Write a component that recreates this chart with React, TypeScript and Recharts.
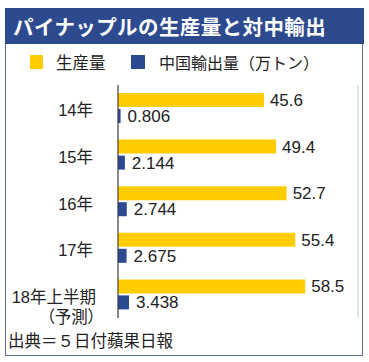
import React from "react";
import { BarChart, Bar, XAxis, YAxis, CartesianGrid, LabelList } from "recharts";

const categories = ["14年", "15年", "16年", "17年", "18年上半期\n（予測）"];
const production = [45.6, 49.4, 52.7, 55.4, 58.5];
const exportsToChina = [0.806, 2.144, 2.744, 2.675, 3.438];
const xTicks = [0, 25, 50, 75];

const title = "パイナップルの生産量と対中輸出";
const legendProduction = "生産量";
const legendExport = "中国輸出量（万トン）";
const source = "出典＝５日付蘋果日報";

const YELLOW = "#FFCC00";
const BLUE = "#2B4A92";
const CJK = "'Noto Sans CJK JP', sans-serif";
const MIXED = "'Liberation Sans', Arial, 'Noto Sans CJK JP', sans-serif";

const data = categories.map((name, i) => ({
  name,
  production: production[i],
  exports: exportsToChina[i],
}));

const CategoryTick = (props: any) => {
  const { x, y, payload } = props;
  const lines = String(payload.value).split("\n");
  const multi = lines.length > 1;
  return (
    <g>
      {lines.map((line: string, i: number) => (
        <text
          key={i}
          x={x - (multi ? 22 : 25)}
          y={y + 2 + i * 20}
          textAnchor="end"
          dominantBaseline="central"
          fontSize={16.5}
          fill="#222"
          fontFamily={MIXED}
          style={{ fontFeatureSettings: "'palt'" }}
        >
          {line}
        </text>
      ))}
    </g>
  );
};

export default function App() {
  return (
    <div
      style={{
        position: "absolute",
        left: 0,
        top: 0,
        width: 369,
        height: 362,
        background: "#fff",
        overflow: "hidden",
      }}
    >
      <div
        style={{
          position: "absolute",
          left: 5,
          top: 8,
          width: 356,
          height: 346,
          border: "1.5px solid #5d6c8c",
        }}
      />
      <div
        style={{
          position: "absolute",
          left: 5,
          top: 8,
          width: 359,
          height: 36,
          background: "#2D4A8E",
          color: "#fff",
          fontFamily: CJK,
          fontWeight: 700,
          fontSize: 20.5,
          lineHeight: "36px",
          paddingLeft: 8,
          boxSizing: "border-box",
          whiteSpace: "nowrap",
          letterSpacing: 0.4,
        }}
      >
        {title}
      </div>
      <div style={{ position: "absolute", left: 30, top: 55, width: 13, height: 14, background: YELLOW }} />
      <div
        style={{
          position: "absolute",
          left: 56,
          top: 51,
          fontFamily: CJK,
          fontSize: 16.5,
          lineHeight: "22px",
          color: "#222",
          whiteSpace: "nowrap",
        }}
      >
        {legendProduction}
      </div>
      <div style={{ position: "absolute", left: 131, top: 55, width: 14, height: 14, background: BLUE }} />
      <div
        style={{
          position: "absolute",
          left: 159,
          top: 51,
          fontFamily: CJK,
          fontSize: 16,
          lineHeight: "22px",
          color: "#222",
          whiteSpace: "nowrap",
        }}
      >
        {legendExport}
      </div>
      <div
        style={{
          position: "absolute",
          left: 8,
          top: 329,
          fontFamily: CJK,
          fontSize: 16.5,
          lineHeight: "22px",
          color: "#222",
          whiteSpace: "nowrap",
        }}
      >
        {source}
      </div>
      <div style={{ position: "absolute", left: 0, top: 0 }}>
        <BarChart
          width={369}
          height={362}
          data={data}
          layout="vertical"
          margin={{ top: 85, right: 11, bottom: 44, left: 0 }}
          barSize={14}
          barGap={2}
        >
          <CartesianGrid horizontal={false} vertical={true} stroke="#c4c4c4" strokeWidth={1} />
          <XAxis
            type="number"
            domain={[0, 75]}
            ticks={xTicks}
            axisLine={false}
            tickLine={false}
            tick={false}
            height={0}
          />
          <YAxis
            type="category"
            dataKey="name"
            width={118}
            axisLine={{ stroke: "#333", strokeWidth: 1 }}
            tickLine={false}
            tickSize={0}
            tickMargin={0}
            tick={<CategoryTick />}
            interval={0}
          />
          <Bar dataKey="production" fill={YELLOW} isAnimationActive={false}>
            <LabelList
              dataKey="production"
              position="right"
              offset={6}
              fontSize={17}
              fill="#222"
              fontFamily={MIXED}
            />
          </Bar>
          <Bar dataKey="exports" fill={BLUE} isAnimationActive={false}>
            <LabelList
              dataKey="exports"
              position="right"
              offset={7}
              fontSize={17}
              fill="#222"
              fontFamily={MIXED}
            />
          </Bar>
        </BarChart>
      </div>
    </div>
  );
}
